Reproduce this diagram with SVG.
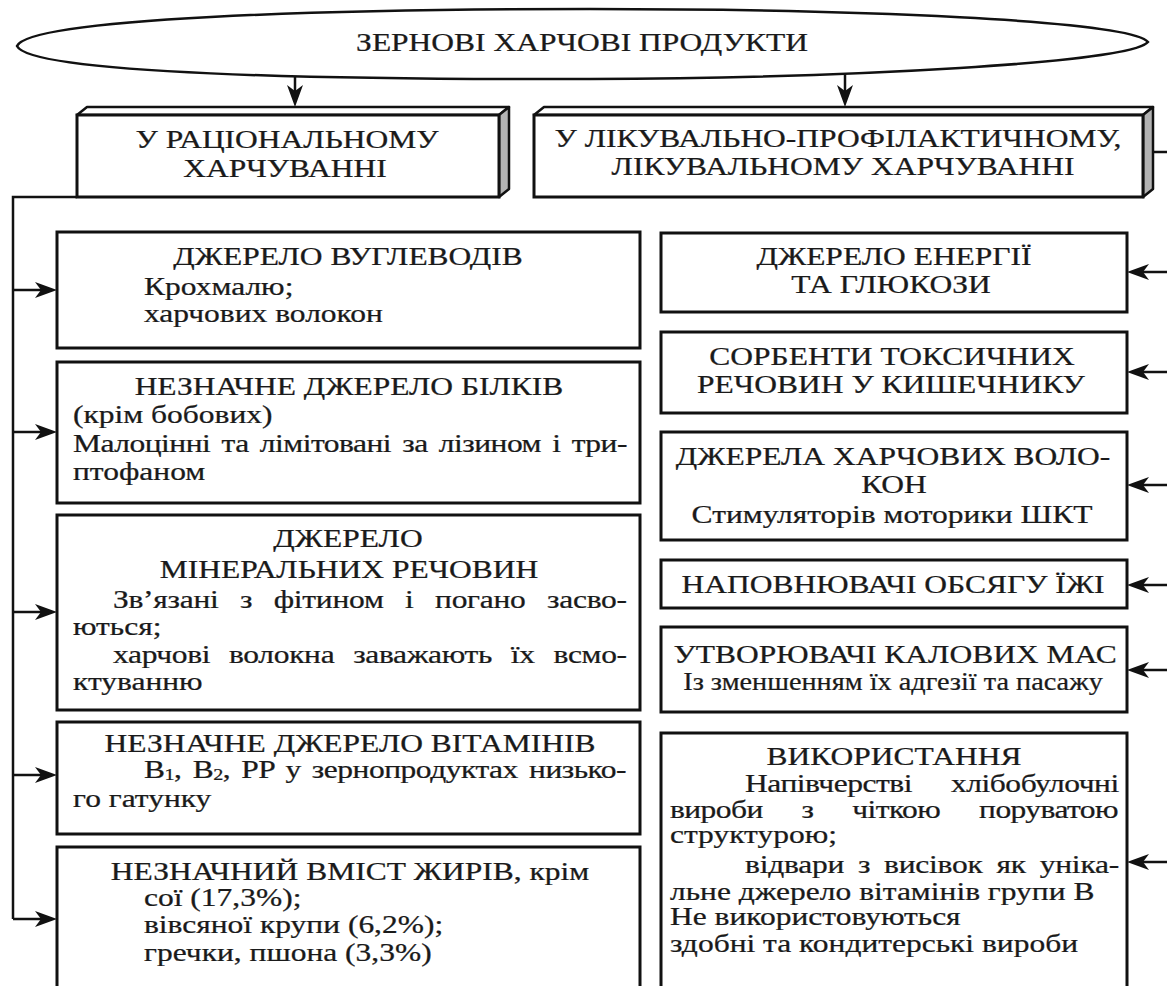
<svg xmlns="http://www.w3.org/2000/svg" width="1167" height="986" viewBox="0 0 1167 986" font-family="'Liberation Serif', 'Times New Roman', serif">
<style>
.t{font-family:"Liberation Serif","Times New Roman",serif;font-size:25px;fill:#1a1a1a;stroke:#1a1a1a;stroke-width:0.25}
.c{text-anchor:middle}
.box{fill:#fff;stroke:#111;stroke-width:3}
.ln{fill:none;stroke:#111;stroke-width:2.5}
.arr{fill:none;stroke:#111;stroke-width:2.5;marker-end:url(#ah)}
.side{fill:#b3b3b3;stroke:#111;stroke-width:2.5;stroke-linejoin:round}
.topf{fill:#fff;stroke:#111;stroke-width:2.5;stroke-linejoin:round}
.ell{fill:#fff;stroke:#111;stroke-width:2.5}
</style>
<defs>
<marker id="ah" viewBox="-16 -10 26 20" refX="0" refY="0" markerWidth="26" markerHeight="20" markerUnits="userSpaceOnUse" orient="auto">
<path d="M8,0 L-14,-8 L-8,0 L-14,8 Z" fill="#111"/>
</marker>
</defs>
<rect x="0" y="0" width="1167" height="986" fill="#fff"/>

<g id="connectors">
<path class="arr" d="M295,75 V99"/>
<path class="arr" d="M845,73 V99"/>
<path class="ln" d="M77,197 H13 V919"/>
<path class="arr" d="M13,290 H49"/>
<path class="arr" d="M13,432 H49"/>
<path class="arr" d="M13,612 H49"/>
<path class="arr" d="M13,775 H49"/>
<path class="arr" d="M13,919 H49"/>
<path class="ln" d="M1153,152 H1169 V862"/>
<path class="arr" d="M1169,272 H1135"/>
<path class="arr" d="M1169,372 H1135"/>
<path class="arr" d="M1169,485 H1135"/>
<path class="arr" d="M1169,585 H1135"/>
<path class="arr" d="M1169,670 H1135"/>
<path class="arr" d="M1169,862 H1135"/>
</g>

<g id="n-title">
<path class="ell" d="M17,46 C30,18 330,9 590,9 C850,9 1130,20 1148,42 C1130,63 850,78 590,79 C330,80 30,74 17,46 Z"/>
<text class="t c" transform="translate(582,51) scale(1.26,1)">ЗЕРНОВІ ХАРЧОВІ ПРОДУКТИ</text>
</g>

<g id="n-rational">
<polygon class="topf" points="77,115 87,107 509,107 499,115"/>
<polygon class="side" points="499,115 509,107 509,189 499,197"/>
<rect class="box" x="77" y="115" width="422" height="82"/>
<text class="t c" transform="translate(287,148) scale(1.26,1)">У РАЦІОНАЛЬНОМУ</text>
<text class="t c" transform="translate(285,177) scale(1.26,1)">ХАРЧУВАННІ</text>
</g>

<g id="n-medical">
<polygon class="topf" points="534,115 544,107 1153,107 1143,115"/>
<polygon class="side" points="1143,115 1153,107 1153,189 1143,197"/>
<rect class="box" x="534" y="115" width="609" height="82"/>
<text class="t c" transform="translate(838,147) scale(1.26,1)">У ЛІКУВАЛЬНО-ПРОФІЛАКТИЧНОМУ,</text>
<text class="t c" transform="translate(843,175) scale(1.26,1)">ЛІКУВАЛЬНОМУ ХАРЧУВАННІ</text>
</g>

<g id="n-carbs">
<rect class="box" x="57" y="232" width="583" height="116"/>
<text class="t c" transform="translate(348,265) scale(1.26,1)">ДЖЕРЕЛО ВУГЛЕВОДІВ</text>
<text class="t" transform="translate(144,295) scale(1.26,1)">Крохмалю;</text>
<text class="t" transform="translate(144,322) scale(1.26,1)">харчових волокон</text>
</g>

<g id="n-proteins">
<rect class="box" x="57" y="362" width="583" height="141"/>
<text class="t c" transform="translate(349,395) scale(1.26,1)">НЕЗНАЧНЕ ДЖЕРЕЛО БІЛКІВ</text>
<text class="t" transform="translate(73,423) scale(1.26,1)">(крім бобових)</text>
<text class="t" transform="translate(73,452) scale(1.26,1)" word-spacing="3" textLength="440" lengthAdjust="spacing">Малоцінні та лімітовані за лізином і три-</text>
<text class="t" transform="translate(73,480) scale(1.26,1)">птофаном</text>
</g>

<g id="n-minerals">
<rect class="box" x="57" y="515" width="583" height="195"/>
<text class="t c" transform="translate(348,547) scale(1.26,1)">ДЖЕРЕЛО</text>
<text class="t c" transform="translate(349,578) scale(1.26,1)">МІНЕРАЛЬНИХ РЕЧОВИН</text>
<text class="t" transform="translate(113,608) scale(1.26,1)" word-spacing="11" textLength="408" lengthAdjust="spacing">Зв’язані з фітином і погано засво-</text>
<text class="t" transform="translate(73,635) scale(1.26,1)">ються;</text>
<text class="t" transform="translate(113,663) scale(1.26,1)" word-spacing="9" textLength="408" lengthAdjust="spacing">харчові волокна заважають їх всмо-</text>
<text class="t" transform="translate(73,690) scale(1.26,1)">ктуванню</text>
</g>

<g id="n-vitamins">
<rect class="box" x="57" y="722" width="583" height="112"/>
<text class="t c" transform="translate(350,752) scale(1.26,1)">НЕЗНАЧНЕ ДЖЕРЕЛО ВІТАМІНІВ</text>
<text class="t" transform="translate(144,778) scale(1.26,1)" word-spacing="3" textLength="383" lengthAdjust="spacing">B<tspan font-size="16" dy="2">1</tspan><tspan dy="-2">, B</tspan><tspan font-size="16" dy="2">2</tspan><tspan dy="-2">, PP у зернопродуктах низько-</tspan></text>
<text class="t" transform="translate(73,807) scale(1.26,1)">го гатунку</text>
</g>

<g id="n-fats">
<rect class="box" x="57" y="847" width="583" height="150"/>
<text class="t c" transform="translate(350,880) scale(1.26,1)">НЕЗНАЧНИЙ ВМІСТ ЖИРІВ, крім</text>
<text class="t" transform="translate(144,906) scale(1.26,1)">сої (17,3%);</text>
<text class="t" transform="translate(144,933) scale(1.26,1)">вівсяної крупи (6,2%);</text>
<text class="t" transform="translate(144,961) scale(1.26,1)">гречки, пшона (3,3%)</text>
</g>

<g id="n-energy">
<rect class="box" x="661" y="233" width="466" height="79"/>
<text class="t c" transform="translate(894,265) scale(1.26,1)">ДЖЕРЕЛО ЕНЕРГІЇ</text>
<text class="t c" transform="translate(891,293) scale(1.26,1)">ТА ГЛЮКОЗИ</text>
</g>

<g id="n-sorbents">
<rect class="box" x="661" y="332" width="466" height="81"/>
<text class="t c" transform="translate(892,365) scale(1.26,1)">СОРБЕНТИ ТОКСИЧНИХ</text>
<text class="t c" transform="translate(891,393) scale(1.26,1)">РЕЧОВИН У КИШЕЧНИКУ</text>
</g>

<g id="n-fibers">
<rect class="box" x="661" y="432" width="466" height="108"/>
<text class="t c" transform="translate(893,465) scale(1.26,1)">ДЖЕРЕЛА ХАРЧОВИХ ВОЛО-</text>
<text class="t c" transform="translate(894,493) scale(1.26,1)">КОН</text>
<text class="t c" transform="translate(892,523) scale(1.26,1)">Стимуляторів моторики ШКТ</text>
</g>

<g id="n-fillers">
<rect class="box" x="661" y="560" width="466" height="48"/>
<text class="t c" transform="translate(893,593) scale(1.26,1)">НАПОВНЮВАЧІ ОБСЯГУ ЇЖІ</text>
</g>

<g id="n-stool">
<rect class="box" x="661" y="627" width="466" height="85"/>
<text class="t c" transform="translate(895,663) scale(1.26,1)">УТВОРЮВАЧІ КАЛОВИХ МАС</text>
<text class="t c" transform="translate(893,690) scale(1.26,1)" textLength="333" lengthAdjust="spacingAndGlyphs">Із зменшенням їх адгезії та пасажу</text>
</g>

<g id="n-usage">
<rect class="box" x="661" y="733" width="466" height="270"/>
<text class="t c" transform="translate(894,765) scale(1.26,1)">ВИКОРИСТАННЯ</text>
<text class="t" transform="translate(745,792) scale(1.26,1)" word-spacing="25" textLength="297" lengthAdjust="spacing">Напівчерстві хлібобулочні</text>
<text class="t" transform="translate(670,818) scale(1.26,1)" word-spacing="25" textLength="356" lengthAdjust="spacing">вироби з чіткою поруватою</text>
<text class="t" transform="translate(670,843) scale(1.26,1)">структурою;</text>
<text class="t" transform="translate(745,873) scale(1.26,1)" word-spacing="5" textLength="297" lengthAdjust="spacing">відвари з висівок як уніка-</text>
<text class="t" transform="translate(670,900) scale(1.26,1)">льне джерело вітамінів групи В</text>
<text class="t" transform="translate(670,925) scale(1.26,1)">Не використовуються</text>
<text class="t" transform="translate(670,952) scale(1.26,1)">здобні та кондитерські вироби</text>
</g>
</svg>
